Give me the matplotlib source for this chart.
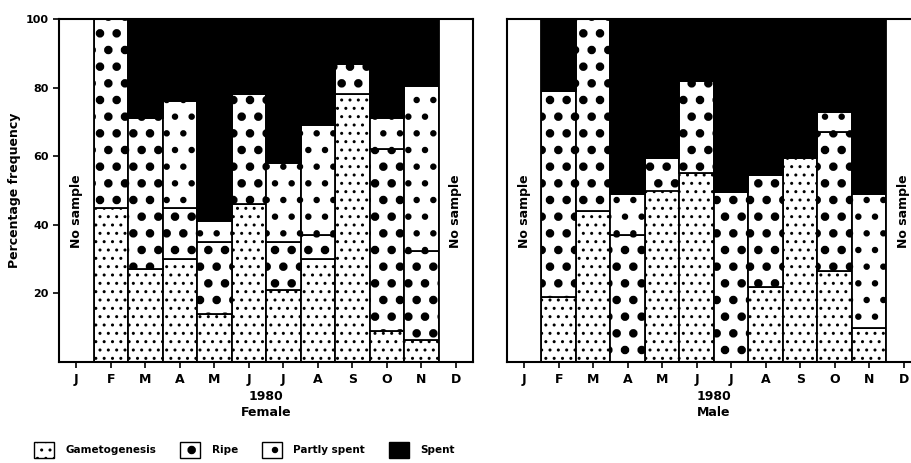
import numpy as np
import matplotlib
matplotlib.use("Agg")
import matplotlib.pyplot as plt
from matplotlib.patches import Patch

months = ["J", "F", "M", "A", "M", "J", "J", "A", "S", "O", "N", "D"]
nan = np.nan

# female, 1980 (percent)
female_gam = [nan, 45, 27, 30, 14, 46, 21, 30, 78, 9, 6.5, nan]
female_ripe = [nan, 55, 44, 15, 21, 32, 14, 7, 9, 53, 26, nan]
female_part = [nan, 0, 0, 31, 6, 0, 23, 32, 0, 9, 48, nan]
female_spent = [nan, 0, 29, 24, 59, 22, 42, 31, 13, 29, 19.5, nan]

# male, 1980 (percent)
male_gam = [nan, 19, 44, 0, 50, 55, 0, 22, 59.5, 26.5, 10, nan]
male_ripe = [nan, 60, 56, 37, 9.5, 27, 49.5, 32.5, 0, 40.5, 0, nan]
male_part = [nan, 0, 0, 12, 0, 0, 0, 0, 0, 6, 39, nan]
male_spent = [nan, 21, 0, 51, 40.5, 18, 50.5, 45.5, 40.5, 27, 51, nan]

plt.rcParams["font.family"] = "DejaVu Sans"

# hatch pattern and hatch line width for each stage
STYLE = {
    "gam": ("..", 1.0),
    "ripe": (".", 3.7),
    "part": (".", 2.2),
}

fig = plt.figure(figsize=(9.12, 4.63), dpi=100)


def set_hatch(patches, key):
    h, lw = STYLE[key]
    for p in patches:
        p.set_hatch(h)
        p.set_hatch_linewidth(lw)


def panel(ax, gam, ripe, part, spent):
    x = np.arange(len(months))
    gam = np.array(gam, float)
    ripe = np.array(ripe, float)
    part = np.array(part, float)
    spent = np.array(spent, float)
    ok = ~np.isnan(gam)
    kw = dict(width=1.0, edgecolor="black", linewidth=1.3)
    b = ax.bar(x[ok], gam[ok], facecolor="white", **kw)
    set_hatch(b, "gam")
    b = ax.bar(x[ok], ripe[ok], bottom=gam[ok], facecolor="white", **kw)
    set_hatch(b, "ripe")
    b = ax.bar(x[ok], part[ok], bottom=gam[ok] + ripe[ok], facecolor="white", **kw)
    set_hatch(b, "part")
    ax.bar(x[ok], spent[ok], bottom=gam[ok] + ripe[ok] + part[ok],
           facecolor="black", **kw)
    # no sample months
    for i in x[~ok]:
        ax.bar(i, 100, facecolor="white", **kw)
        ax.text(i, 44, "No sample", rotation=90, ha="center", va="center",
                fontsize=9, fontweight="bold")
    ax.set_xlim(-0.5, len(months) - 0.5)
    ax.set_ylim(0, 100)
    ax.set_xticks(x)
    ax.set_xticklabels(months, fontsize=9, fontweight="bold")
    ax.tick_params(axis="x", length=4, width=1.2, pad=4)
    for s in ax.spines.values():
        s.set_linewidth(1.5)


ax1 = fig.add_axes([59 / 912, 101 / 463, 414 / 912, 343 / 463])
panel(ax1, female_gam, female_ripe, female_part, female_spent)
ax1.set_yticks([20, 40, 60, 80, 100])
ax1.set_yticklabels(["20", "40", "60", "80", "100"], fontsize=8, fontweight="bold")
ax1.tick_params(axis="y", length=4, width=1.2)
ax1.set_ylabel("Percentage frequency", fontsize=9, fontweight="bold", labelpad=3)

ax2 = fig.add_axes([507 / 912, 101 / 463, 414 / 912, 343 / 463])
panel(ax2, male_gam, male_ripe, male_part, male_spent)
ax2.set_yticks([])

fig.text((59 + 207) / 912, 1 - 396 / 463, "1980", ha="center", va="center",
         fontsize=9, fontweight="bold")
fig.text((59 + 207) / 912, 1 - 413 / 463, "Female", ha="center", va="center",
         fontsize=9, fontweight="bold")
fig.text((507 + 207) / 912, 1 - 396 / 463, "1980", ha="center", va="center",
         fontsize=9, fontweight="bold")
fig.text((507 + 207) / 912, 1 - 413 / 463, "Male", ha="center", va="center",
         fontsize=9, fontweight="bold")

legend_keys = [("gam", "Gametogenesis"), ("ripe", "Ripe"), ("part", "Partly spent")]
handles = [Patch(facecolor="white", edgecolor="black", label=lab)
           for _, lab in legend_keys]
handles.append(Patch(facecolor="black", edgecolor="black", label="Spent"))

leg = fig.legend(handles=handles, loc="center left", ncol=4,
                 bbox_to_anchor=(27 / 912, 1 - 450 / 463), frameon=False,
                 handlelength=1.9, handleheight=2.1, columnspacing=2.3,
                 handletextpad=1.1, borderpad=0.2,
                 prop={"size": 7.5, "weight": "bold"})
for p, (key, _) in zip(leg.get_patches(), legend_keys):
    set_hatch([p], key)

fig.savefig("out.png", dpi=100)
